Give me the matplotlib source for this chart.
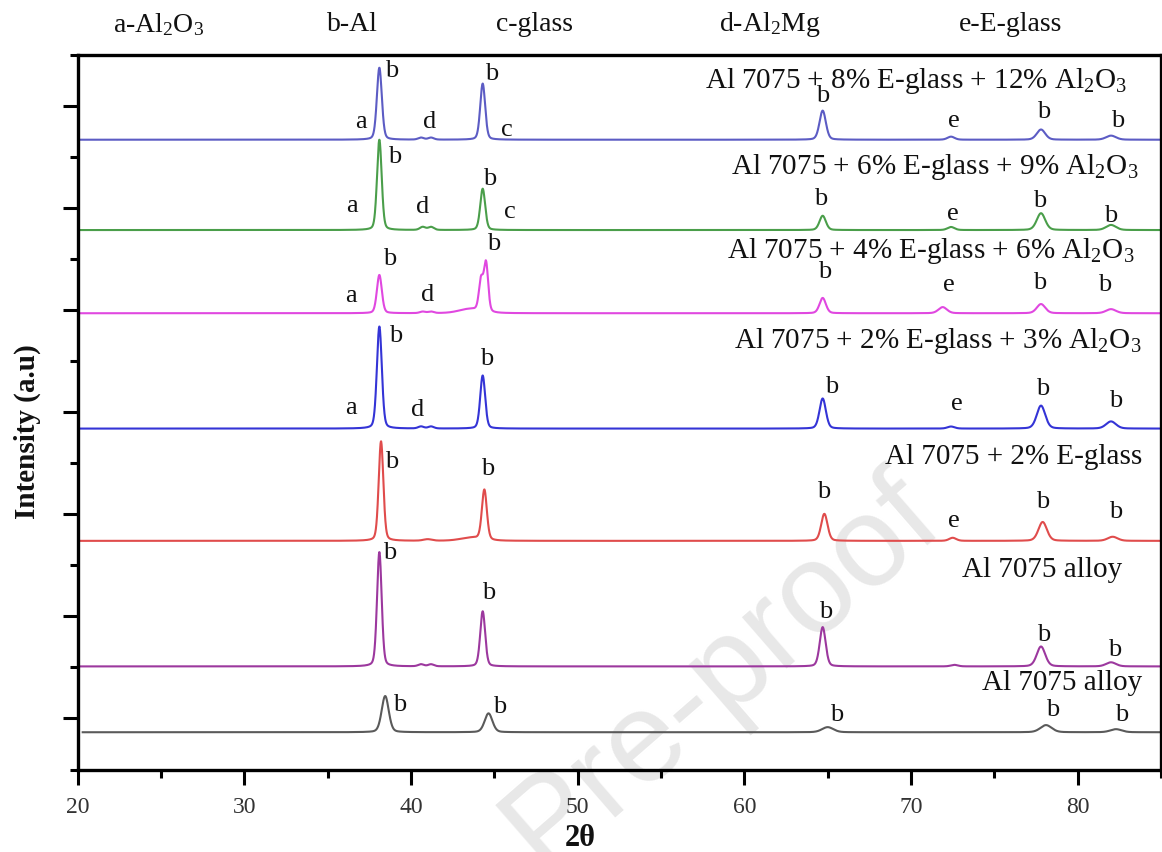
import numpy as np
import matplotlib
matplotlib.use("Agg")
import matplotlib.pyplot as plt
from matplotlib.ticker import MultipleLocator, FixedLocator

plt.rcParams['font.family'] = ['Liberation Serif', 'DejaVu Serif']
plt.rcParams['mathtext.fontset'] = 'custom'
plt.rcParams['mathtext.rm'] = 'Liberation Serif'
plt.rcParams['mathtext.it'] = 'Liberation Serif:italic'
plt.rcParams['mathtext.bf'] = 'Liberation Serif:bold'

# ---------------- data ----------------
sample_names = [
    r"Al 7075 + 8% E-glass + 12% Al$_\mathregular{2}$O$_\mathregular{3}$",
    r"Al 7075 + 6% E-glass + 9% Al$_\mathregular{2}$O$_\mathregular{3}$",
    r"Al 7075 + 4% E-glass + 6% Al$_\mathregular{2}$O$_\mathregular{3}$",
    r"Al 7075 + 2% E-glass + 3% Al$_\mathregular{2}$O$_\mathregular{3}$",
    "Al 7075 + 2% E-glass",
    "Al 7075 alloy",
    "Al 7075 alloy",
]
offsets = [12.34, 10.57, 8.94, 6.68, 4.48, 2.02, 0.73]
scan_start = [20.0, 20.0, 20.0, 20.0, 20.0, 20.0, 20.3]
scan_end = 85.0
line_colors = ['#5c5cc4', '#4a9e4a', '#e048e0', '#3434d6', '#e04c4c', '#9c389e', '#5a5a5a']

# peak positions (2θ), heights (a.u.) and FWHM (deg)
pos_1 = [38.10, 40.60, 41.20, 44.30, 64.70, 72.40, 77.80, 82.00]
hgt_1 = [1.41, 0.04, 0.04, 1.10, 0.57, 0.06, 0.20, 0.08]
fw_1 = [0.35, 0.40, 0.40, 0.35, 0.45, 0.50, 0.60, 0.70]

pos_2 = [38.10, 40.70, 41.20, 44.30, 64.70, 72.40, 77.80, 82.00]
hgt_2 = [1.77, 0.06, 0.06, 0.81, 0.28, 0.06, 0.33, 0.10]
fw_2 = [0.33, 0.40, 0.40, 0.35, 0.45, 0.50, 0.60, 0.70]

pos_3 = [38.10, 40.70, 41.20, 43.50, 44.20, 44.50, 64.70, 71.90, 77.80, 82.00]
hgt_3 = [0.75, 0.03, 0.03, 0.08, 0.60, 0.95, 0.30, 0.12, 0.18, 0.08]
fw_3 = [0.35, 0.40, 0.40, 1.50, 0.30, 0.30, 0.45, 0.60, 0.60, 0.70]

pos_4 = [38.10, 40.60, 41.20, 44.30, 64.70, 72.40, 77.80, 82.00]
hgt_4 = [2.00, 0.04, 0.04, 1.04, 0.59, 0.04, 0.45, 0.14]
fw_4 = [0.35, 0.40, 0.40, 0.35, 0.45, 0.50, 0.60, 0.70]

pos_5 = [38.20, 41.00, 43.60, 44.40, 64.80, 72.50, 77.90, 82.10]
hgt_5 = [1.95, 0.03, 0.06, 0.98, 0.53, 0.06, 0.37, 0.08]
fw_5 = [0.33, 0.60, 1.50, 0.35, 0.45, 0.50, 0.60, 0.70]

pos_6 = [38.10, 40.60, 41.20, 44.30, 64.70, 72.60, 77.80, 82.00]
hgt_6 = [2.24, 0.04, 0.04, 1.08, 0.77, 0.03, 0.39, 0.08]
fw_6 = [0.33, 0.40, 0.40, 0.35, 0.42, 0.50, 0.60, 0.70]

pos_7 = [38.45, 44.65, 65.00, 78.10, 82.30]
hgt_7 = [0.71, 0.37, 0.10, 0.14, 0.06]
fw_7 = [0.50, 0.55, 0.80, 0.80, 0.80]

peak_sets = [(pos_1, hgt_1, fw_1), (pos_2, hgt_2, fw_2), (pos_3, hgt_3, fw_3),
             (pos_4, hgt_4, fw_4), (pos_5, hgt_5, fw_5), (pos_6, hgt_6, fw_6),
             (pos_7, hgt_7, fw_7)]

# phase letters: (2θ, intensity, letter) per pattern
marks_1 = [(38.86, 13.68, 'b'), (37.0, 12.68, 'a'), (41.14, 12.68, 'd'), (44.86, 13.62, 'b'),
           (45.77, 12.53, 'c'), (64.7, 13.19, 'b'), (72.6, 12.70, 'e'), (77.97, 12.88, 'b'),
           (82.4, 12.71, 'b')]
marks_2 = [(39.0, 12.0, 'b'), (36.46, 11.04, 'a'), (40.7, 11.02, 'd'), (44.74, 11.57, 'b'),
           (45.93, 10.92, 'c'), (64.6, 11.17, 'b'), (72.5, 10.88, 'e'), (77.7, 11.13, 'b'),
           (82.0, 10.84, 'b')]
marks_3 = [(38.7, 10.0, 'b'), (36.4, 9.27, 'a'), (41.0, 9.29, 'd'), (44.97, 10.29, 'b'),
           (64.8, 9.74, 'b'), (72.3, 9.50, 'e'), (77.7, 9.54, 'b'), (81.6, 9.50, 'b')]
marks_4 = [(39.1, 8.49, 'b'), (36.4, 7.09, 'a'), (40.4, 7.05, 'd'), (44.55, 8.04, 'b'),
           (65.25, 7.50, 'b'), (72.75, 7.17, 'e'), (77.9, 7.45, 'b'), (82.3, 7.22, 'b')]
marks_5 = [(38.86, 6.03, 'b'), (44.6, 5.88, 'b'), (64.77, 5.44, 'b'), (72.6, 4.86, 'e'),
           (77.9, 5.25, 'b'), (82.3, 5.05, 'b')]
marks_6 = [(38.74, 4.25, 'b'), (44.67, 3.46, 'b'), (64.9, 3.09, 'b'), (77.98, 2.64, 'b'),
           (82.2, 2.35, 'b')]
marks_7 = [(39.3, 1.27, 'b'), (45.3, 1.23, 'b'), (65.55, 1.07, 'b'), (78.5, 1.17, 'b'),
           (82.65, 1.07, 'b')]
all_marks = [marks_1, marks_2, marks_3, marks_4, marks_5, marks_6, marks_7]

# sample label anchor (right edge 2θ, intensity)
name_x = [82.95, 83.67, 83.43, 83.85, 83.85, 82.65, 83.85]
name_y = [13.49, 11.80, 10.15, 8.39, 6.13, 3.91, 1.70]

phase_keys = [r"a-Al$_\mathregular{2}$O$_\mathregular{3}$", "b-Al", "c-glass",
              r"d-Al$_\mathregular{2}$Mg", "e-E-glass"]
phase_key_x = [24.85, 36.5, 47.4, 61.5, 76.0]

x_ticks = [20, 30, 40, 50, 60, 70, 80]


def profile(x, pos, hgt, fw, eta=0.25):
    y = np.zeros_like(x)
    for p, h, w in zip(pos, hgt, fw):
        g = np.exp(-4 * np.log(2) * ((x - p) / w) ** 2)
        l = 1.0 / (1.0 + 4 * ((x - p) / w) ** 2)
        y += h * ((1 - eta) * g + eta * l)
    return y


# ---------------- figure ----------------
fig = plt.figure(figsize=(11.62, 8.52), dpi=100)
ax = fig.add_axes([77.7 / 1162, 1 - 769.5 / 852, (1161 - 77.7) / 1162, (769.5 - 55) / 852])
ax.patch.set_alpha(0)

for i in range(7):
    x = np.linspace(scan_start[i], scan_end, 6000)
    pos, hgt, fw = peak_sets[i]
    ax.plot(x, offsets[i] + profile(x, pos, hgt, fw), color=line_colors[i], lw=1.5, zorder=2)
    for mx, my, lt in all_marks[i]:
        ax.text(mx, my, lt, fontsize=19, ha='center', va='center', color='#111111', zorder=3)
    ax.text(name_x[i], name_y[i], sample_names[i], fontsize=21, ha='right', va='center',
            color='#111111', zorder=3)

for k, kx in zip(phase_keys, phase_key_x):
    ax.text(kx, 14.6, k, fontsize=20, ha='center', va='center', color='#111111', clip_on=False)

ax.set_xlim(20, 85)
ax.set_ylim(0, 14.0)
ax.xaxis.set_major_locator(FixedLocator(x_ticks))
ax.xaxis.set_minor_locator(MultipleLocator(5))
ax.yaxis.set_major_locator(FixedLocator([1, 3, 5, 7, 9, 11, 13]))
ax.yaxis.set_minor_locator(FixedLocator([0, 2, 4, 6, 8, 10, 12, 14]))
ax.set_yticklabels([])
ax.tick_params(axis='both', which='both', direction='out', width=2.2, color='black')
ax.tick_params(axis='x', which='major', length=11, labelsize=17, labelcolor='#333333', pad=9)
ax.tick_params(axis='x', which='minor', length=6)
ax.tick_params(axis='y', which='major', length=11)
ax.tick_params(axis='y', which='minor', length=6)
for s in ax.spines.values():
    s.set_linewidth(2.4)

fig.text(27 / 1162, 1 - 432 / 852, "Intensity (a.u)", rotation=90, fontsize=21,
         fontweight='bold', ha='center', va='center', color='#111111')
fig.text(580 / 1162, 1 - 838 / 852, "2θ", fontsize=22, fontweight='bold',
         ha='center', va='center', color='#111111')

ax.text(722 / 1162, 1 - 672 / 852, "Pre-proof", transform=fig.transFigure, rotation=41,
        fontsize=92, family='Liberation Sans', color='#e8e8e8', ha='center', va='center',
        zorder=0.5, clip_on=False)

fig.savefig("out.png", dpi=100)
